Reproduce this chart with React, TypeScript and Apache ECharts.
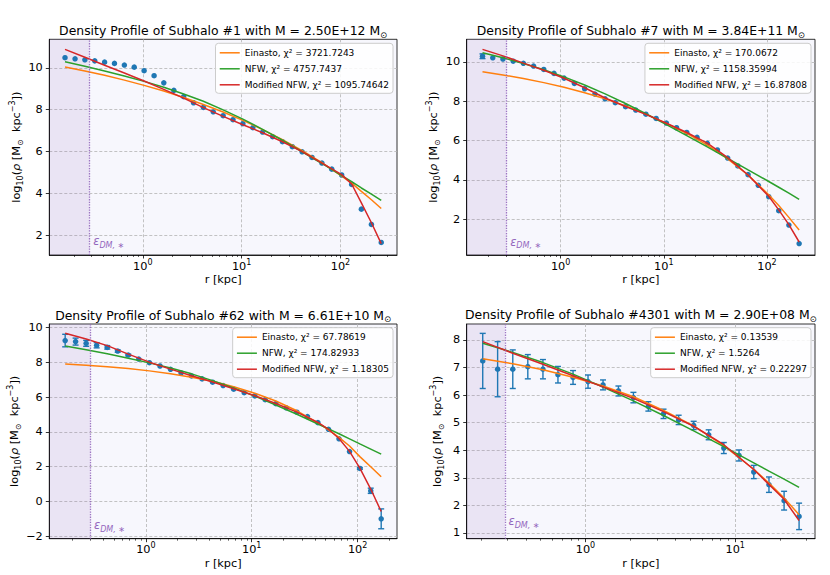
import React, { useEffect, useRef } from 'react';
import * as echarts from 'echarts';

const FONT = "'DejaVu Sans', sans-serif";
const BLUE = '#1f77b4';
const ORANGE = '#ff7f0e';
const GREEN = '#2ca02c';
const RED = '#d62728';
const PURPLE = '#9467bd';

// ---------------- Subhalo #1 ----------------
const title1 = 'Density Profile of Subhalo #1 with M = 2.50E+12 M';
const names1 = ['Einasto, χ² = 3721.7243', 'NFW, χ² = 4757.7437', 'Modified NFW, χ² = 1095.74642'];
const r1 = [0.163, 0.206, 0.259, 0.326, 0.410, 0.516, 0.650, 0.818, 1.03, 1.30, 1.63, 2.06, 2.59, 3.26, 4.10, 5.16, 6.50, 8.18, 10.3, 13.0, 16.3, 20.6, 25.9, 32.6, 41.0, 51.6, 65.0, 81.8, 103, 130, 163, 206, 259];
const rho1 = [10.48, 10.43, 10.38, 10.33, 10.27, 10.21, 10.13, 10.03, 9.86, 9.62, 9.28, 8.92, 8.62, 8.33, 8.11, 7.90, 7.71, 7.52, 7.33, 7.14, 6.93, 6.71, 6.47, 6.23, 5.99, 5.72, 5.45, 5.16, 4.88, 4.43, 3.25, 2.52, 1.66];
const err1: number[] = [];
const fitR1 = [0.163, 0.259, 0.410, 0.650, 1.03, 1.63, 2.59, 4.10, 6.50, 10.3, 16.3, 25.9, 41.0, 65.0, 103, 130, 163, 206, 259];
const ein1 = [10.04, 9.85, 9.64, 9.41, 9.16, 8.89, 8.58, 8.25, 7.89, 7.49, 7.05, 6.57, 6.04, 5.47, 4.83, 4.49, 4.10, 3.70, 3.28];
const nfw1 = [10.29, 10.07, 9.85, 9.61, 9.35, 9.07, 8.75, 8.40, 7.99, 7.55, 7.06, 6.54, 5.99, 5.43, 4.85, 4.56, 4.26, 3.97, 3.67];
const mnfw1 = [10.88, 10.50, 10.12, 9.75, 9.37, 8.97, 8.55, 8.10, 7.68, 7.28, 6.90, 6.47, 6.00, 5.45, 4.90, 4.45, 3.55, 2.60, 1.60];
const yTicks1 = [2, 4, 6, 8, 10];

// ---------------- Subhalo #7 ----------------
const title2 = 'Density Profile of Subhalo #7 with M = 3.84E+11 M';
const names2 = ['Einasto, χ² = 170.0672', 'NFW, χ² = 1158.35994', 'Modified NFW, χ² = 16.87808'];
const r2 = [0.175, 0.220, 0.276, 0.347, 0.436, 0.547, 0.687, 0.863, 1.08, 1.36, 1.71, 2.15, 2.70, 3.39, 4.26, 5.35, 6.71, 8.43, 10.6, 13.3, 16.7, 21.0, 26.4, 33.1, 41.6, 52.2, 65.6, 82.4, 104, 130, 163, 205];
const rho2 = [10.28, 10.20, 10.14, 10.03, 9.92, 9.78, 9.61, 9.41, 9.17, 8.90, 8.63, 8.36, 8.12, 7.92, 7.72, 7.55, 7.34, 7.12, 6.89, 6.65, 6.41, 6.16, 5.86, 5.52, 5.11, 4.71, 4.27, 3.73, 3.15, 2.44, 1.71, 0.77];
const err2 = [0.12];
const fitR2 = [0.175, 0.276, 0.436, 0.687, 1.08, 1.71, 2.70, 4.26, 6.71, 10.6, 16.7, 26.4, 41.6, 65.6, 104, 130, 163, 205];
const ein2 = [9.49, 9.33, 9.15, 8.94, 8.71, 8.43, 8.12, 7.76, 7.34, 6.87, 6.36, 5.77, 5.07, 4.25, 3.25, 2.70, 2.10, 1.46];
const nfw2 = [10.46, 10.20, 9.91, 9.59, 9.23, 8.82, 8.37, 7.88, 7.36, 6.81, 6.25, 5.68, 5.10, 4.51, 3.92, 3.63, 3.33, 3.01];
const mnfw2 = [10.63, 10.30, 9.93, 9.57, 9.16, 8.68, 8.16, 7.73, 7.33, 6.88, 6.41, 5.87, 5.13, 4.25, 3.17, 2.48, 1.73, 0.85];
const yTicks2 = [2, 4, 6, 8, 10];

// ---------------- Subhalo #62 ----------------
const title3 = 'Density Profile of Subhalo #62 with M = 6.61E+10 M';
const names3 = ['Einasto, χ² = 67.78619', 'NFW, χ² = 174.82933', 'Modified NFW, χ² = 1.18305'];
const r3 = [0.173, 0.217, 0.273, 0.343, 0.432, 0.542, 0.682, 0.857, 1.08, 1.36, 1.71, 2.15, 2.70, 3.40, 4.27, 5.37, 6.75, 8.49, 10.7, 13.4, 16.9, 21.2, 26.7, 33.6, 42.2, 53.1, 66.7, 83.9, 105, 133, 167];
const rho3 = [9.24, 9.18, 9.08, 8.97, 8.85, 8.64, 8.41, 8.18, 7.97, 7.78, 7.59, 7.38, 7.21, 7.04, 6.85, 6.66, 6.45, 6.25, 6.06, 5.85, 5.62, 5.38, 5.13, 4.88, 4.53, 4.15, 3.60, 2.87, 1.90, 0.62, -0.99];
const err3 = [0.36, 0.20, 0.17, 0.15, 0.10, 0.07, 0.05, 0, 0, 0, 0, 0, 0, 0, 0, 0, 0, 0, 0, 0, 0, 0, 0, 0, 0, 0, 0, 0, 0.05, 0.15, 0.57];
const fitR3 = [0.173, 0.273, 0.432, 0.682, 1.08, 1.71, 2.70, 4.27, 6.75, 10.7, 16.9, 26.7, 42.2, 53.1, 66.7, 83.9, 105, 133, 167];
const ein3 = [7.90, 7.83, 7.74, 7.63, 7.50, 7.34, 7.14, 6.90, 6.59, 6.22, 5.77, 5.21, 4.52, 4.12, 3.68, 3.19, 2.58, 2.00, 1.42];
const nfw3 = [8.93, 8.71, 8.48, 8.23, 7.96, 7.66, 7.33, 6.94, 6.52, 6.05, 5.54, 5.01, 4.45, 4.17, 3.89, 3.60, 3.31, 3.01, 2.72];
const mnfw3 = [9.66, 9.33, 8.95, 8.46, 8.00, 7.60, 7.22, 6.86, 6.47, 6.07, 5.63, 5.13, 4.54, 4.15, 3.62, 2.88, 1.92, 0.72, -0.57];
const yTicks3 = [-2, 0, 2, 4, 6, 8, 10];

// ---------------- Subhalo #4301 ----------------
const title4 = 'Density Profile of Subhalo #4301 with M = 2.90E+08 M';
const names4 = ['Einasto, χ² = 0.13539', 'NFW, χ² = 1.5264', 'Modified NFW, χ² = 0.22297'];
const r4 = [0.206, 0.259, 0.327, 0.412, 0.520, 0.655, 0.826, 1.04, 1.31, 1.66, 2.09, 2.63, 3.32, 4.19, 5.28, 6.65, 8.39, 10.6, 13.3, 16.8, 21.2, 26.7];
const rho4 = [7.24, 6.94, 6.94, 7.03, 6.94, 6.74, 6.64, 6.49, 6.37, 6.15, 5.91, 5.59, 5.32, 5.10, 4.90, 4.56, 4.08, 3.81, 3.21, 2.75, 2.17, 1.60];
const err4 = [1.00, 1.00, 0.70, 0.44, 0.35, 0.30, 0.25, 0.24, 0.18, 0.18, 0.19, 0.17, 0.17, 0.17, 0.15, 0.18, 0.20, 0.20, 0.24, 0.28, 0.34, 0.48];
const fitR4 = [0.206, 0.327, 0.520, 0.826, 1.31, 2.09, 3.32, 5.28, 8.39, 13.3, 16.8, 21.2, 26.7];
const ein4 = [7.32, 7.14, 6.92, 6.65, 6.33, 5.94, 5.44, 4.88, 4.17, 3.31, 2.81, 2.27, 1.66];
const nfw4 = [7.88, 7.55, 7.18, 6.76, 6.29, 5.79, 5.26, 4.70, 4.13, 3.54, 3.24, 2.95, 2.65];
const mnfw4 = [7.94, 7.52, 7.12, 6.70, 6.30, 5.88, 5.40, 4.87, 4.20, 3.30, 2.76, 2.22, 1.45];
const yTicks4 = [1, 2, 3, 4, 5, 6, 7, 8];

// tick values on the log r axis
const xMajorTicks = [1, 10, 100];
const xMinorTicks = [0.2, 0.3, 0.4, 0.5, 0.6, 0.7, 0.8, 0.9, 2, 3, 4, 5, 6, 7, 8, 9, 20, 30, 40, 50, 60, 70, 80, 90, 200, 300];

const panels = [
  { title: title1, names: names1, r: r1, rho: rho1, err: err1, fitR: fitR1, ein: ein1, nfw: nfw1, mnfw: mnfw1, yTicks: yTicks1 },
  { title: title2, names: names2, r: r2, rho: rho2, err: err2, fitR: fitR2, ein: ein2, nfw: nfw2, mnfw: mnfw2, yTicks: yTicks2 },
  { title: title3, names: names3, r: r3, rho: rho3, err: err3, fitR: fitR3, ein: ein3, nfw: nfw3, mnfw: mnfw3, yTicks: yTicks3 },
  { title: title4, names: names4, r: r4, rho: rho4, err: err4, fitR: fitR4, ein: ein4, nfw: nfw4, mnfw: mnfw4, yTicks: yTicks4 },
];

// layout (pixels) and axis ranges
const layouts = [
  { left: 49.3, top: 39.3, width: 347.7, height: 215.7, xMin: 0.113, xMax: 374, yMin: 1.06, yMax: 11.36, eps: 0.29, epsY: 1.71, legendRight: 437, legendTop: 43.3, titleY: 30.5, yNameGap: 25 },
  { left: 466.7, top: 39.3, width: 348.3, height: 215.7, xMin: 0.123, xMax: 292, yMin: 0.19, yMax: 11.14, eps: 0.30, epsY: 0.86, legendRight: 19, legendTop: 43.3, titleY: 30.5, yNameGap: 25 },
  { left: 49.3, top: 324, width: 347.7, height: 214.7, xMin: 0.1225, xMax: 235.5, yMin: -2.13, yMax: 10.19, eps: 0.30, epsY: -1.37, legendRight: 437, legendTop: 327.7, titleY: 315, yNameGap: 25 },
  { left: 466.7, top: 324, width: 348.3, height: 214.7, xMin: 0.161, xMax: 34.1, yMin: 0.79, yMax: 8.58, eps: 0.29, epsY: 1.42, legendRight: 19, legendTop: 327.7, titleY: 314.5, yNameGap: 21 },
];

const TICK_FS = 11.3;
const gridLine = { show: true, lineStyle: { color: '#b4b4b4', width: 0.8, type: [3, 2] as any } };
const axisLineStyle = { color: '#000', width: 0.8 };

function buildOption() {
  const grid: any[] = [];
  const xAxis: any[] = [];
  const yAxis: any[] = [];
  const series: any[] = [];
  const legend: any[] = [];
  const graphic: any[] = [];

  panels.forEach((p, i) => {
    const L = layouts[i];
    grid.push({
      left: L.left, top: L.top, width: L.width, height: L.height,
      show: true, backgroundColor: '#f7f7fd', borderColor: '#000', borderWidth: 0.8,
    });
    xAxis.push({
      type: 'log', logBase: 10, gridIndex: i, min: L.xMin, max: L.xMax, position: 'bottom',
      axisLine: { show: true, onZero: false, lineStyle: axisLineStyle },
      axisTick: { show: true, length: 3.5, customValues: xMajorTicks, lineStyle: axisLineStyle },
      axisLabel: {
        show: true, customValues: xMajorTicks, margin: 3,
        formatter: (v: number) => `{b|10}{p|${Math.round(Math.log10(v))}}`,
        rich: {
          b: { fontSize: TICK_FS, fontFamily: FONT, color: '#000', lineHeight: 16, verticalAlign: 'middle' },
          p: { fontSize: 8, fontFamily: FONT, color: '#000', lineHeight: 10, verticalAlign: 'top' },
        },
      },
      splitLine: gridLine,
      name: 'r [kpc]', nameLocation: 'middle', nameGap: 19,
      nameTextStyle: { fontSize: TICK_FS, fontFamily: FONT, color: '#000' },
    });
    xAxis.push({
      type: 'log', logBase: 10, gridIndex: i, min: L.xMin, max: L.xMax, position: 'bottom',
      axisLine: { show: false, onZero: false },
      axisTick: { show: true, length: 2, customValues: xMinorTicks, lineStyle: { color: '#000', width: 0.6 } },
      axisLabel: { show: false },
      splitLine: { show: false },
    });
    yAxis.push({
      type: 'value', gridIndex: i, min: L.yMin, max: L.yMax,
      axisLine: { show: true, onZero: false, lineStyle: axisLineStyle },
      axisTick: { show: true, length: 3.5, customValues: p.yTicks, lineStyle: axisLineStyle },
      axisLabel: {
        customValues: p.yTicks, margin: 6.5, fontSize: TICK_FS, fontFamily: FONT, color: '#000',
        formatter: (v: number) => (v < 0 ? '\u2212' + Math.abs(v) : String(v)),
      },
      splitLine: gridLine,
      name: '{n|log}{s|10}{n|(}{i|ρ}{n| [M}{s|⊙}{n|  kpc}{p|−3}{n|])}',
      nameLocation: 'middle', nameGap: L.yNameGap, nameRotate: 90,
      nameTextStyle: {
        fontSize: TICK_FS, fontFamily: FONT, color: '#000',
        rich: {
          n: { fontSize: TICK_FS, fontFamily: FONT, color: '#000', lineHeight: 16, verticalAlign: 'middle' },
          i: { fontSize: TICK_FS, fontFamily: FONT, color: '#000', lineHeight: 16, verticalAlign: 'middle', fontStyle: 'italic' },
          s: { fontSize: 8, fontFamily: FONT, color: '#000', lineHeight: 9, verticalAlign: 'bottom' },
          p: { fontSize: 8, fontFamily: FONT, color: '#000', lineHeight: 10, verticalAlign: 'top' },
        },
      },
    });

    const xi = i * 2;
    const errData = p.r
      .map((r, k) => [r, p.rho[k] - (p.err[k] || 0), p.rho[k] + (p.err[k] || 0), p.err[k] || 0])
      .filter((d) => d[3] > 0);
    if (errData.length) {
      series.push({
        type: 'custom', name: 'err' + i, xAxisIndex: xi, yAxisIndex: i, z: 2,
        encode: { x: 0, y: [1, 2] },
        data: errData,
        renderItem: (params: any, api: any) => {
          const x = api.value(0);
          const a = api.coord([x, api.value(2)]);
          const b = api.coord([x, api.value(1)]);
          const w = 3;
          const style = { stroke: BLUE, lineWidth: 1.4 };
          return {
            type: 'group',
            children: [
              { type: 'line', shape: { x1: a[0], y1: a[1], x2: b[0], y2: b[1] }, style },
              { type: 'line', shape: { x1: a[0] - w, y1: a[1], x2: a[0] + w, y2: a[1] }, style },
              { type: 'line', shape: { x1: b[0] - w, y1: b[1], x2: b[0] + w, y2: b[1] }, style },
            ],
          };
        },
      });
    }
    series.push({
      type: 'scatter', name: 'data' + i, xAxisIndex: xi, yAxisIndex: i, z: 3,
      symbol: 'circle', symbolSize: 5.5, itemStyle: { color: BLUE, opacity: 1 },
      data: p.r.map((r, k) => [r, p.rho[k]]),
      markArea: {
        silent: true, z: 1,
        itemStyle: { color: 'rgba(148,103,189,0.13)' },
        data: [[{ xAxis: L.xMin }, { xAxis: L.eps }]],
      },
      markLine: {
        silent: true, symbol: ['none', 'none'],
        lineStyle: { color: PURPLE, type: 'dotted', width: 1.3, opacity: 0.9 },
        label: { show: false },
        data: [{ xAxis: L.eps }],
      },
      markPoint: {
        silent: true, symbol: 'circle', symbolSize: 1,
        itemStyle: { color: 'rgba(0,0,0,0)' },
        label: {
          show: true, position: 'right', distance: 3,
          formatter: '{e|ε}{s|DM, ∗}',
          rich: {
            e: { fontSize: 11.5, fontFamily: FONT, fontStyle: 'italic', color: PURPLE, lineHeight: 16, verticalAlign: 'middle' },
            s: { fontSize: 8, fontFamily: FONT, fontStyle: 'italic', color: PURPLE, lineHeight: 10, verticalAlign: 'bottom' },
          },
        },
        data: [{ coord: [L.eps, L.epsY] }],
      },
    });
    const fits = [
      { name: p.names[0], vals: p.ein, color: ORANGE },
      { name: p.names[1], vals: p.nfw, color: GREEN },
      { name: p.names[2], vals: p.mnfw, color: RED },
    ];
    fits.forEach((f) => {
      series.push({
        type: 'line', name: f.name, xAxisIndex: xi, yAxisIndex: i, z: 4,
        symbol: 'none', showSymbol: false,
        lineStyle: { color: f.color, width: 1.5 },
        itemStyle: { color: f.color },
        data: p.fitR.map((r, k) => [r, f.vals[k]]),
      });
    });
    legend.push({
      data: p.names, orient: 'vertical', right: L.legendRight, top: L.legendTop,
      itemWidth: 20, itemHeight: 9, itemGap: 7, padding: [5, 4, 4, 3.5],
      backgroundColor: 'rgba(255,255,255,0.85)', borderColor: '#cccccc', borderWidth: 1, borderRadius: 3,
      textStyle: { fontSize: 9, fontFamily: FONT, color: '#000' },
      itemStyle: { color: 'rgba(0,0,0,0)', borderColor: 'rgba(0,0,0,0)', borderWidth: 0, opacity: 0 },
      lineStyle: { width: 1.5 },
      selectedMode: false,
    });
    graphic.push({
      type: 'text', x: L.left + L.width / 2, y: L.titleY, silent: true,
      style: {
        text: p.title + '{s|⊙}',
        fontSize: 12.4, fontFamily: FONT, fill: '#000',
        align: 'center', verticalAlign: 'middle', textAlign: 'center', textVerticalAlign: 'middle',
        rich: {
          s: { fontSize: 8.5, fontFamily: FONT, fill: '#000', lineHeight: 10, verticalAlign: 'bottom' },
        },
        lineHeight: 17,
      },
    });
  });

  return {
    animation: false,
    backgroundColor: '#ffffff',
    textStyle: { fontFamily: FONT },
    grid, xAxis, yAxis, series, legend, graphic,
  };
}

export default function App() {
  const ref = useRef<HTMLDivElement>(null);
  useEffect(() => {
    if (!ref.current) return;
    const chart = echarts.init(ref.current, undefined, { renderer: 'svg' });
    chart.setOption(buildOption() as any);
    return () => chart.dispose();
  }, []);
  return (
    <div
      ref={ref}
      style={{ position: 'absolute', left: 0, top: 0, width: 830, height: 575, background: '#fff' }}
    />
  );
}
